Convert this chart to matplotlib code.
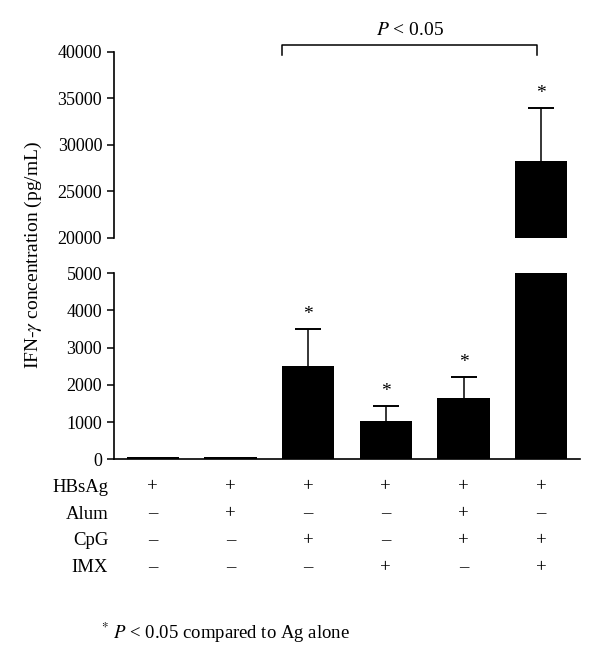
import numpy as np
import matplotlib
matplotlib.use("Agg")
import matplotlib.pyplot as plt

plt.rcParams["font.family"] = ["Liberation Serif", "DejaVu Serif"]
plt.rcParams["mathtext.fontset"] = "stix"

# data (pg/mL)
groups = ["G1", "G2", "G3", "G4", "G5", "G6"]
means = [60, 60, 2500, 1030, 1650, 28300]
errors = [0, 0, 1000, 390, 550, 5650]
signif = [False, False, True, True, True, True]

row_names = ["HBsAg", "Alum", "CpG", "IMX"]
row_signs = [
    ["+", "+", "+", "+", "+", "+"],
    ["\u2013", "+", "\u2013", "\u2013", "+", "\u2013"],
    ["\u2013", "\u2013", "+", "\u2013", "+", "+"],
    ["\u2013", "\u2013", "\u2013", "+", "\u2013", "+"],
]

x = np.arange(len(groups))
tops = np.array(means) + np.array(errors)
has_err = np.array(errors) > 0

fig = plt.figure(figsize=(6.0, 6.46), dpi=100)
ax_top = fig.add_axes([0.19, 0.6316, 0.7767, 0.288])
ax_bot = fig.add_axes([0.19, 0.289, 0.7767, 0.288])

for ax, lim, ticks in [(ax_top, (20000, 40000), np.arange(20000, 40001, 5000)),
                       (ax_bot, (0, 5000), np.arange(0, 5001, 1000))]:
    ax.bar(x, means, width=0.67, color="black")
    # one-sided error bars, cap only on top
    ax.vlines(x[has_err], np.array(means)[has_err], tops[has_err],
              color="black", lw=1.1)
    ax.plot(x[has_err], tops[has_err], ls="none", marker="_", ms=19,
            mew=1.4, color="black")
    ax.set_ylim(*lim)
    ax.set_xlim(-0.5, 5.5)
    ax.set_yticks(ticks)
    ax.tick_params(axis="y", direction="out", length=5, width=1.1, labelsize=13)
    ax.tick_params(axis="x", bottom=False, labelbottom=False)
    for s in ["top", "right"]:
        ax.spines[s].set_visible(False)
    ax.spines["left"].set_linewidth(1.2)
    ax.patch.set_alpha(0)

ax_top.spines["bottom"].set_visible(False)
ax_bot.spines["bottom"].set_linewidth(1.2)

# significance asterisks
for i in range(len(groups)):
    if not signif[i]:
        continue
    ax = ax_top if means[i] > 5000 else ax_bot
    ax.annotate("*", xy=(x[i], tops[i]), xytext=(0, 10.5),
                textcoords="offset points", ha="center", va="center",
                fontsize=14, annotation_clip=False)

# bracket between group 3 and group 6
left, right = x[2] - 0.335, x[5] - 0.05
ax_top.plot([left, left, right, right], [39680, 40750, 40750, 39680],
            color="black", lw=1.1, clip_on=False)
ax_top.text((left + right) / 2, 42300, "$P$ < 0.05", ha="center", va="center",
            fontsize=14)

# treatment table under the bars
tr = ax_bot.get_xaxis_transform()
for r, (name, signs) in enumerate(zip(row_names, row_signs)):
    yy = -0.149 - 0.145 * r
    ax_bot.text(-0.575, yy, name, transform=tr, ha="right", va="center",
                fontsize=13.5, clip_on=False)
    for i, s in enumerate(signs):
        ax_bot.text(x[i], yy, s, transform=tr, ha="center", va="center",
                    fontsize=13.5, clip_on=False)

fig.text(0.055, 0.605, "IFN-$\\gamma$ concentration (pg/mL)", rotation=90,
         ha="center", va="center", fontsize=14)
fig.text(0.168, 0.021, "$^{*}$ $P$ < 0.05 compared to Ag alone",
         ha="left", va="center", fontsize=13.5)

fig.savefig("out.png", dpi=100)
